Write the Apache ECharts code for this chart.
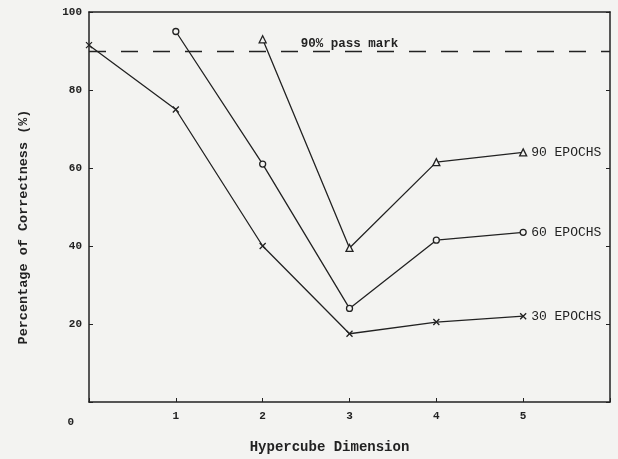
<!DOCTYPE html>
<html>
<head>
<meta charset="utf-8">
<script src="https://cdn.jsdelivr.net/npm/echarts@6/dist/echarts.min.js"></script>
<style>
  html, body {margin: 0; padding: 0; background: #f3f3f1;}
  #chart {width: 618px; height: 459px;}
</style>
</head>
<body>
<div id="chart"></div>
<script>
// hypercube dimension on x, correctness % on y
var dims30 = [0, 1, 2, 3, 4, 5];
var epochs30 = [91.5, 75, 40, 17.5, 20.5, 22];
var dims60 = [1, 2, 3, 4, 5];
var epochs60 = [95, 61, 24, 41.5, 43.5];
var dims90 = [2, 3, 4, 5];
var epochs90 = [93, 39.5, 61.5, 64];
var seriesNames = ['30 EPOCHS', '60 EPOCHS', '90 EPOCHS'];
var passMark = 90;
var passLabel = '90% pass mark';
var yTicks = [0, 20, 40, 60, 80, 100];
var xTicks = [1, 2, 3, 4, 5];

var ink = '#222';
var font = 'Liberation Mono';

function pairs(xs, ys) {
  return xs.map(function (x, i) { return [x, ys[i]]; });
}

function makeSeries(name, xs, ys, symbol, size, fill) {
  return {
    name: name,
    type: 'line',
    data: pairs(xs, ys),
    symbol: symbol,
    symbolSize: size,
    showAllSymbol: true,
    lineStyle: {color: ink, width: 1.3},
    itemStyle: {color: fill, borderColor: ink, borderWidth: 1.3},
    endLabel: {
      show: true,
      formatter: name,
      color: ink,
      fontFamily: font,
      fontSize: 13,
      distance: 8
    },
    animation: false
  };
}

var chart = echarts.init(document.getElementById('chart'));

var s30 = makeSeries(seriesNames[0], dims30, epochs30, 'path://M0,0L10,10M10,0L0,10', 6, ink);
s30.markLine = {
  silent: true,
  symbol: 'none',
  lineStyle: {color: ink, type: [17, 15], width: 1.3},
  label: {
    show: true,
    position: 'insideMiddleTop',
    formatter: passLabel,
    color: ink,
    fontFamily: font,
    fontSize: 12.5,
    fontWeight: 'bold',
    distance: 1
  },
  data: [{yAxis: passMark}]
};

var option = {
  backgroundColor: '#f3f3f1',
  grid: {left: 89, right: 8, top: 12, bottom: 50},
  xAxis: [{
    type: 'value',
    min: 0,
    max: 6,
    interval: 1,
    name: 'Hypercube Dimension',
    nameLocation: 'middle',
    nameGap: 38,
    nameTextStyle: {color: ink, fontFamily: font, fontSize: 14, fontWeight: 'bold', padding: [0, 40, 0, 0]},
    axisLine: {lineStyle: {color: ink, width: 1.5}},
    axisTick: {inside: true, length: 4, lineStyle: {color: ink}},
    splitLine: {show: false},
    axisLabel: {
      color: ink, fontFamily: font, fontSize: 11, fontWeight: 'bold', margin: 9,
      formatter: function (v) { return xTicks.indexOf(v) >= 0 ? String(v) : ''; }
    }
  }, {
    type: 'value',
    position: 'top',
    min: 0,
    max: 6,
    interval: 1,
    axisLine: {show: true, onZero: false, lineStyle: {color: ink, width: 1.5}},
    axisTick: {show: false},
    axisLabel: {show: false},
    splitLine: {show: false}
  }],
  yAxis: [{
    type: 'value',
    min: yTicks[0],
    max: yTicks[yTicks.length - 1],
    interval: 20,
    name: 'Percentage of Correctness (%)',
    nameLocation: 'middle',
    nameGap: 58,
    nameTextStyle: {color: ink, fontFamily: font, fontSize: 13.5, fontWeight: 'bold', padding: [0, 40, 0, 0]},
    axisLine: {show: true, lineStyle: {color: ink, width: 1.5}},
    axisTick: {show: true, inside: true, length: 4, lineStyle: {color: ink}},
    splitLine: {show: false},
    axisLabel: {
      color: ink, fontFamily: font, fontSize: 11, fontWeight: 'bold', margin: 7,
      formatter: function (v) { return v === 0 ? '{z|0}' : String(v); },
      rich: {z: {fontFamily: font, fontSize: 11, fontWeight: 'bold', color: ink, padding: [40, 8, 0, 0]}}
    }
  }, {
    type: 'value',
    position: 'right',
    min: 0,
    max: 100,
    interval: 20,
    axisLine: {show: true, onZero: false, lineStyle: {color: ink, width: 1.5}},
    axisTick: {show: true, inside: true, length: 4, lineStyle: {color: ink}},
    axisLabel: {show: false},
    splitLine: {show: false}
  }],
  series: [
    s30,
    makeSeries(seriesNames[1], dims60, epochs60, 'circle', 6, '#f3f3f1'),
    makeSeries(seriesNames[2], dims90, epochs90, 'triangle', 7, '#f3f3f1')
  ]
};

chart.setOption(option);
</script>
</body>
</html>
